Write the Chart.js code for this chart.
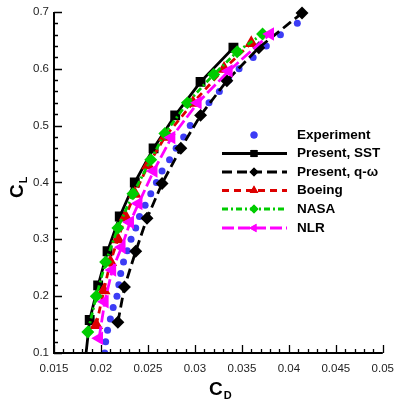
<!DOCTYPE html>
<html>
<head>
<meta charset="utf-8">
<script src="https://cdn.jsdelivr.net/npm/chart.js@4"></script>
<style>
html, body { margin: 0; padding: 0; background: #fff; }
</style>
</head>
<body>
<canvas id="polarChart" width="403" height="403"></canvas>
<script>
// drag polar, CL vs CD
const expCL = [0.10, 0.12, 0.14, 0.16, 0.18, 0.20, 0.22, 0.24, 0.26, 0.28, 0.30, 0.32, 0.34, 0.36, 0.38,
               0.40, 0.42, 0.44, 0.46, 0.48, 0.50, 0.52, 0.54, 0.56, 0.58, 0.60, 0.62, 0.64, 0.66, 0.68]
const expCD = [0.0204, 0.0205, 0.0207, 0.0210, 0.0213, 0.0217, 0.0219, 0.0221, 0.0224, 0.0228, 0.0232, 0.0237, 0.0241, 0.0247, 0.0253,
               0.0259, 0.0265, 0.0273, 0.0280, 0.0288, 0.0295, 0.0306, 0.0315, 0.0326, 0.0336, 0.0347, 0.0362, 0.0376, 0.0391, 0.0409]

const sstCL = [0.098, 0.158, 0.219, 0.279, 0.340, 0.400, 0.460, 0.518, 0.577, 0.637]
const sstCD = [0.0184, 0.0188, 0.0197, 0.0207, 0.0220, 0.0236, 0.0256, 0.0279, 0.0306, 0.0341]

const qwCL = [0.154, 0.216, 0.279, 0.337, 0.398, 0.460, 0.518, 0.579, 0.637, 0.698]
const qwCD = [0.0218, 0.0225, 0.0237, 0.0249, 0.0265, 0.0285, 0.0306, 0.0334, 0.0368, 0.0414]

const boeingCL = [0.149, 0.21, 0.26, 0.30, 0.34, 0.38, 0.43, 0.48, 0.54, 0.60, 0.645]
const boeingCD = [0.0195, 0.0203, 0.0210, 0.0218, 0.0226, 0.0236, 0.0250, 0.0268, 0.0298, 0.0331, 0.0360]

const nasaCL = [0.137, 0.20, 0.26, 0.32, 0.38, 0.44, 0.486, 0.54, 0.59, 0.63, 0.661]
const nasaCD = [0.0186, 0.0195, 0.0205, 0.0218, 0.0234, 0.0253, 0.0268, 0.0292, 0.0320, 0.0345, 0.0372]

const nlrCL = [0.126, 0.19, 0.246, 0.286, 0.33, 0.363, 0.42, 0.479, 0.54, 0.596, 0.661]
const nlrCD = [0.0198, 0.0204, 0.0212, 0.0222, 0.0231, 0.0240, 0.0256, 0.0275, 0.0303, 0.0336, 0.0380]

const xTicks = [0.015, 0.02, 0.025, 0.03, 0.035, 0.04, 0.045, 0.05]
const yTicks = [0.1, 0.2, 0.3, 0.4, 0.5, 0.6, 0.7]

function pts(cd, cl)
{
    return cd.map((v, i) => ({x: v, y: cl[i]}))
}

const clipBox = {left: 10, top: 10, right: 10, bottom: 0}

const datasets = [
    {
        label: 'Experiment', data: pts(expCD, expCL), showLine: false,
        pointStyle: 'circle', pointRadius: 3.5, backgroundColor: '#3c3cf5', borderColor: '#3c3cf5',
        borderWidth: 0, order: 6
    },
    {
        label: 'Present, SST', data: pts(sstCD, sstCL), showLine: true,
        borderColor: '#000', backgroundColor: '#000', borderWidth: 2.8, borderDash: [],
        pointStyle: 'rect', pointRadius: ctx => (ctx.raw && ctx.raw.y < 0.1 ? 0 : 5), order: 5
    },
    {
        label: 'Present, q-ω', data: pts(qwCD, qwCL), showLine: true,
        borderColor: '#000', backgroundColor: '#000', borderWidth: 2.8, borderDash: [10, 5],
        pointStyle: 'rectRot', pointRadius: 4.5, order: 4
    },
    {
        label: 'Boeing', data: pts(boeingCD, boeingCL), showLine: true,
        borderColor: '#dd0000', backgroundColor: '#dd0000', borderWidth: 2.8, borderDash: [7, 5],
        pointStyle: 'triangle', pointRadius: 5, order: 3
    },
    {
        label: 'NASA', data: pts(nasaCD, nasaCL), showLine: true,
        borderColor: '#00cc00', backgroundColor: '#00cc00', borderWidth: 2.8, borderDash: [6, 3, 2, 3],
        pointStyle: 'rectRot', pointRadius: 4.5, order: 2
    },
    {
        label: 'NLR', data: pts(nlrCD, nlrCL), showLine: true,
        borderColor: '#ff00ff', backgroundColor: '#ff00ff', borderWidth: 2.8, borderDash: [12, 4],
        pointStyle: 'triangle', pointRotation: -90, pointRadius: 5, order: 1
    }
]
datasets.forEach(d => { d.clip = clipBox; d.tension = 0; d.borderCapStyle = 'butt' })

// inward ticks, axis lines, axis titles and the legend box
const decorations = {
    id: 'decorations',
    afterDraw(chart)
    {
        const ctx = chart.ctx
        const xs = chart.scales.x
        const ys = chart.scales.y
        const area = chart.chartArea
        ctx.save()
        ctx.strokeStyle = '#000'
        ctx.lineWidth = 1.3
        ctx.beginPath()
        for (let i = 0; i <= 35; i++) {
            const v = 0.015 + i * 0.001
            const px = Math.round(xs.getPixelForValue(v)) + 0.5
            const len = i % 5 === 0 ? 8 : 4
            ctx.moveTo(px, area.bottom)
            ctx.lineTo(px, area.bottom - len)
        }
        for (let i = 0; i <= 30; i++) {
            const v = 0.1 + i * 0.02
            const py = Math.round(ys.getPixelForValue(v)) + 0.5
            const len = i % 5 === 0 ? 8 : 4
            ctx.moveTo(area.left, py)
            ctx.lineTo(area.left + len, py)
        }
        ctx.stroke()

        ctx.lineWidth = 2
        ctx.beginPath()
        ctx.moveTo(area.left, area.top)
        ctx.lineTo(area.left, area.bottom)
        ctx.lineTo(area.right, area.bottom)
        ctx.stroke()

        // axis titles with subscripts
        ctx.fillStyle = '#000'
        ctx.textBaseline = 'alphabetic'
        ctx.textAlign = 'left'
        ctx.font = 'bold 19px "Liberation Sans", Arial, sans-serif'
        ctx.fillText('C', 209, 395)
        const cw = ctx.measureText('C').width
        ctx.font = 'bold 11px "Liberation Sans", Arial, sans-serif'
        ctx.fillText('D', 209 + cw + 1, 399)

        ctx.save()
        ctx.translate(23, 198)
        ctx.rotate(-Math.PI / 2)
        ctx.font = 'bold 19px "Liberation Sans", Arial, sans-serif'
        ctx.fillText('C', 0, 0)
        ctx.font = 'bold 11px "Liberation Sans", Arial, sans-serif'
        ctx.fillText('L', cw + 1, 4)
        ctx.restore()

        // legend
        const rowY = [135, 153.5, 172, 190.5, 209, 228]
        chart.data.datasets.forEach((d, i) => {
            const y = rowY[i]
            if (d.showLine) {
                ctx.save()
                ctx.strokeStyle = d.borderColor
                ctx.lineWidth = d.borderWidth
                ctx.setLineDash(d.borderDash)
                ctx.beginPath()
                ctx.moveTo(222, y)
                ctx.lineTo(287, y)
                ctx.stroke()
                ctx.restore()
            }
            const r = typeof d.pointRadius === 'function' ? 5 : d.pointRadius
            ctx.save()
            ctx.fillStyle = d.backgroundColor
            ctx.strokeStyle = d.borderColor
            Chart.helpers.drawPoint(ctx, {pointStyle: d.pointStyle, radius: r, rotation: d.pointRotation || 0, borderWidth: 0}, 254, y)
            ctx.fill()
            ctx.restore()
            ctx.fillStyle = '#000'
            ctx.font = 'bold 13.5px "Liberation Sans", Arial, sans-serif'
            ctx.textBaseline = 'middle'
            ctx.fillText(d.label, 297, y)
        })
        ctx.restore()
    }
}

const fmt = v => String(+Number(v).toFixed(3))

new Chart(document.getElementById('polarChart').getContext('2d'), {
    type: 'scatter',
    data: { datasets: datasets },
    options: {
        responsive: false,
        animation: false,
        events: [],
        layout: { autoPadding: false, padding: { left: 0, top: 11, right: 13, bottom: 0 } },
        plugins: { legend: { display: false }, tooltip: { enabled: false } },
        scales: {
            x: {
                type: 'linear', min: 0.015, max: 0.05,
                afterFit: s => { s.height = 50 },
                afterBuildTicks: s => { s.ticks = xTicks.map(v => ({value: v})) },
                grid: { display: false, drawTicks: false },
                border: { display: false },
                ticks: { padding: 9, color: '#222', maxRotation: 0, autoSkip: false,
                         font: { family: '"Liberation Sans", Arial, sans-serif', size: 11.5 }, callback: fmt }
            },
            y: {
                type: 'linear', min: 0.1, max: 0.7,
                afterFit: s => { s.width = 54 },
                afterBuildTicks: s => { s.ticks = yTicks.map(v => ({value: v})) },
                grid: { display: false, drawTicks: false },
                border: { display: false },
                ticks: { padding: 5, color: '#222', autoSkip: false,
                         font: { family: '"Liberation Sans", Arial, sans-serif', size: 11.5 }, callback: fmt }
            }
        }
    },
    plugins: [decorations]
})
</script>
</body>
</html>
